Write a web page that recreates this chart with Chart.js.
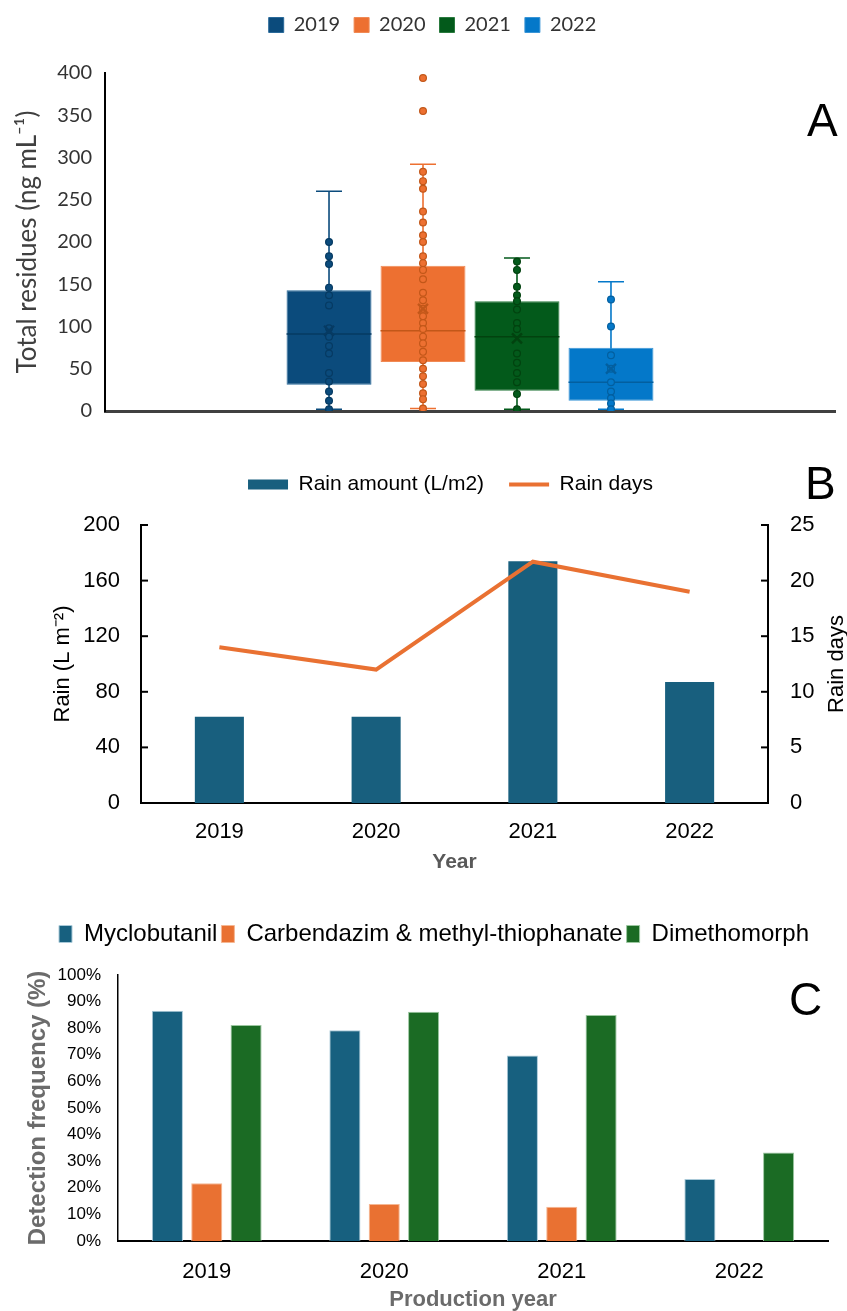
<!DOCTYPE html>
<html>
<head>
<meta charset="utf-8">
<script src="https://cdn.jsdelivr.net/npm/chart.js@4.4.1/dist/chart.umd.min.js"></script>
<style>
  body { margin: 0; background: #fff; }
  #wrap { position: relative; width: 847px; height: 1311px; overflow: hidden; background: #fff; }
  canvas { position: absolute; left: 0; }
  .lab { position: absolute; font-family: "Liberation Sans", Arial, sans-serif; font-size: 46px; line-height: 46px; color: #000; }
</style>
</head>
<body>
<div id="wrap">
  <canvas id="cA" width="847" height="440" style="top:0px"></canvas>
  <canvas id="cB" width="847" height="440" style="top:449px"></canvas>
  <canvas id="cC" width="847" height="406" style="top:905px"></canvas>
  <div class="lab" style="left:807px;top:97px">A</div>
  <div class="lab" style="left:805px;top:460px">B</div>
  <div class="lab" style="left:789px;top:976px">C</div>
</div>
<script>
// ---------- Panel A data (box plots of total residues) ----------
const boxYears   = ['2019', '2020', '2021', '2022'];
const boxQ1      = [31, 58, 24, 12];
const boxQ3      = [143, 172, 130, 75];
const boxMedian  = [91, 95, 88, 34];
const boxMean    = [95, 121, 86, 50];
const whiskerMin = [2, 3, 2, 2];
const whiskerMax = [260, 292, 181, 153];
const points2019 = [200, 183, 174, 146, 137, 125, 98, 88, 77, 68, 45, 35, 23, 12, 2];
const points2020 = [394, 355, 283, 272, 263, 236, 223, 208, 200, 183, 175, 167, 156, 140, 131, 121, 112, 104, 97, 88, 80, 70, 60, 50, 41, 32, 21, 14, 3];
const points2021 = [177, 167, 147, 137, 130, 120, 104, 97, 68, 57, 45, 34, 20, 2];
const points2022 = [132, 100, 66, 50, 34, 23, 15, 9, 2];
const residueTicks = [0, 400, 50];

// ---------- Panel B data (rain) ----------
const rainYears  = ['2019', '2020', '2021', '2022'];
const rainAmount = [62, 62, 174, 87];
const rainDays   = [14, 12, 21.7, 19];

// ---------- Panel C data (detection frequency, %) ----------
const prodYears    = ['2019', '2020', '2021', '2022'];
const myclobutanil = [86.6, 79.2, 69.7, 23.3];
const carbendazim  = [21.7, 13.9, 12.9, 0];
const dimethomorph = [81.2, 86.2, 85.0, 33.3];

// ---------- styles ----------
const boxFill   = ['#0b4b7c', '#ed7031', '#035a1b', '#0478c9'];
const boxEdge   = ['#2a6a9a', '#f08a55', '#2a7a3e', '#3a95d6'];
const boxDark   = ['#063a62', '#c25719', '#02420f', '#035f9f'];
const pointSets = [points2019, points2020, points2021, points2022];

// share of the plot width taken by the group of four boxes
const GROUP_PCT = 0.515;
const SANS = '"Liberation Sans", Arial, sans-serif';

// Panel A: whiskers & medians drawn through the chart's own scales/elements
const boxExtras = {
  id: 'boxExtras',
  beforeDatasetsDraw(chart) {
    const ctx = chart.ctx, y = chart.scales.y;
    for (let i = 0; i < boxYears.length; i++) {
      const bar = chart.getDatasetMeta(i).data[0];
      if (!bar) continue;
      const x = bar.x, half = 13;
      const yMin = y.getPixelForValue(whiskerMin[i]);
      const yMax = y.getPixelForValue(whiskerMax[i]);
      ctx.save();
      ctx.strokeStyle = boxFill[i];
      ctx.lineWidth = 1.6;
      ctx.beginPath();
      ctx.moveTo(x, yMin); ctx.lineTo(x, yMax);
      ctx.moveTo(x - half, yMax); ctx.lineTo(x + half, yMax);
      ctx.moveTo(x - half, yMin); ctx.lineTo(x + half, yMin);
      ctx.stroke();
      ctx.restore();
    }
  },
  afterDatasetDraw(chart, args) {
    const i = args.index;
    if (i >= boxYears.length) return;
    const bar = chart.getDatasetMeta(i).data[0];
    const y = chart.scales.y;
    const ctx = chart.ctx;
    const py = y.getPixelForValue(boxMedian[i]);
    ctx.save();
    ctx.strokeStyle = boxDark[i];
    ctx.lineWidth = 1.5;
    ctx.beginPath();
    ctx.moveTo(bar.x - bar.width / 2, py);
    ctx.lineTo(bar.x + bar.width / 2, py);
    ctx.stroke();
    ctx.restore();
  }
};

const dsA = [];
boxYears.forEach((yr, i) => {
  dsA.push({
    type: 'bar', label: yr, data: [{ x: i, y: [boxQ1[i], boxQ3[i]] }],
    backgroundColor: boxFill[i], borderColor: boxEdge[i], borderWidth: 1, borderSkipped: false,
    grouped: false, categoryPercentage: 1, barPercentage: 0.904, order: 3
  });
});
boxYears.forEach((yr, i) => {
  dsA.push({
    type: 'scatter', label: yr + ' points', data: pointSets[i].map(v => ({ x: i, y: v })),
    pointRadius: 3.4, backgroundColor: boxFill[i],
    borderColor: boxDark[i], borderWidth: 1.2, order: 1
  });
});
boxYears.forEach((yr, i) => {
  dsA.push({
    type: 'scatter', label: yr + ' mean', data: [{ x: i, y: boxMean[i] }],
    pointStyle: 'crossRot', pointRadius: 7,
    borderColor: boxDark[i], borderWidth: 2.4, order: 0
  });
});

new Chart(document.getElementById('cA'), {
  type: 'bar',
  data: { datasets: dsA },
  options: {
    responsive: false, animation: false,
    layout: { padding: { left: 30, right: 12, top: 1, bottom: 29 } },
    plugins: {
      legend: {
        weight: 1000,
        labels: {
          font: { family: 'Lato', size: 20 }, color: '#333', boxWidth: 15, boxHeight: 15, padding: 14,
          filter: item => item.datasetIndex < boxYears.length,
          sort: (a, b) => a.datasetIndex - b.datasetIndex
        }
      },
      subtitle: { display: true, text: '', weight: 500, font: { size: 10, lineHeight: 1 }, padding: { top: 18, bottom: 0 } },
      tooltip: { enabled: false }
    },
    scales: {
      x: {
        type: 'linear', offset: false,
        min: 1.5 - 2 / GROUP_PCT, max: 1.5 + 2 / GROUP_PCT,
        ticks: { display: false, stepSize: 100 }, grid: { display: false, drawTicks: false },
        border: { color: '#404040', width: 3 }, afterFit(s) { s.height = 0; }
      },
      y: {
        min: residueTicks[0], max: residueTicks[1],
        ticks: { stepSize: residueTicks[2], font: { family: 'Lato', size: 20 }, color: '#333', padding: 13 },
        grid: { display: false, drawTicks: false }, border: { color: '#000', width: 2 },
        title: { display: true, text: 'Total residues (ng mL⁻¹)', font: { family: 'Lato', size: 26 }, color: '#404040', padding: { top: -18, bottom: 0 } },
        afterFit(s) { s.width = 75; }
      }
    }
  },
  plugins: [boxExtras]
});

// ---------- Panel B ----------
const innerTicks = {
  id: 'innerTicks',
  afterDatasetsDraw(chart) {
    const ctx = chart.ctx;
    ['y', 'y1'].forEach(id => {
      const s = chart.scales[id];
      const left = s.position === 'left';
      const x0 = left ? s.right : s.left;
      const dir = left ? 1 : -1;
      ctx.save();
      ctx.strokeStyle = '#000'; ctx.lineWidth = 2;
      s.ticks.forEach(t => {
        const py = s.getPixelForValue(t.value);
        ctx.beginPath(); ctx.moveTo(x0, py); ctx.lineTo(x0 + dir * 7, py); ctx.stroke();
      });
      ctx.restore();
    });
  },
  afterDraw(chart) {
    const s = chart.scales.y1, ctx = chart.ctx;
    ctx.save();
    ctx.translate(s.right - 10, (s.top + s.bottom) / 2);
    ctx.rotate(-Math.PI / 2);
    ctx.font = '22px ' + SANS;
    ctx.fillStyle = '#000';
    ctx.textAlign = 'center'; ctx.textBaseline = 'middle';
    ctx.fillText('Rain days', 0, 0);
    ctx.restore();
  }
};

new Chart(document.getElementById('cB'), {
  type: 'bar',
  data: {
    labels: rainYears,
    datasets: [
      { type: 'bar', label: 'Rain amount (L/m2)', data: rainAmount, backgroundColor: '#185f7e',
        categoryPercentage: 1, barPercentage: 0.313, yAxisID: 'y', order: 2, pointStyle: 'rect' },
      { type: 'line', label: 'Rain days', data: rainDays, borderColor: '#e97132', backgroundColor: '#e97132',
        borderWidth: 4, pointRadius: 0, yAxisID: 'y1', order: 1, pointStyle: 'line', tension: 0 }
    ]
  },
  options: {
    responsive: false, animation: false,
    layout: { padding: { left: 54, right: 0, top: 0, bottom: 0 } },
    plugins: {
      legend: {
        weight: 1000,
        labels: { usePointStyle: true, pointStyleWidth: 40, boxHeight: 10, padding: 25,
          font: { family: SANS, size: 21 }, color: '#000',
          sort: (a, b) => a.datasetIndex - b.datasetIndex }
      },
      subtitle: { display: true, text: '', weight: 500, font: { size: 10, lineHeight: 1 }, padding: { top: 10, bottom: 0 } },
      tooltip: { enabled: false }
    },
    scales: {
      x: {
        ticks: { font: { family: SANS, size: 22 }, color: '#000', padding: 16 },
        grid: { display: false, drawTicks: false }, border: { color: '#000', width: 2 },
        title: { display: true, text: 'Year', font: { family: SANS, size: 21, weight: 'bold' }, color: '#595959', padding: { top: 0, bottom: 14 } },
        afterFit(s) { s.height = 86; }
      },
      y: {
        position: 'left', min: 0, max: 200,
        ticks: { stepSize: 40, font: { family: SANS, size: 22 }, color: '#000', padding: 21 },
        grid: { display: false, drawTicks: false }, border: { color: '#000', width: 2 },
        title: { display: true, text: 'Rain (L m⁻²)', font: { family: SANS, size: 22 }, color: '#000', padding: { top: -4.6, bottom: 0 } },
        afterFit(s) { s.width = 87; }
      },
      y1: {
        position: 'right', min: 0, max: 25,
        ticks: { stepSize: 5, font: { family: SANS, size: 22 }, color: '#000', padding: 22 },
        grid: { display: false, drawTicks: false }, border: { color: '#000', width: 2 },
        afterFit(s) { s.width = 79; }
      }
    }
  },
  plugins: [innerTicks]
});

// ---------- Panel C ----------
new Chart(document.getElementById('cC'), {
  type: 'bar',
  data: {
    labels: prodYears,
    datasets: [
      { label: 'Myclobutanil', data: myclobutanil, backgroundColor: '#17607f', borderColor: '#a9c9d8', borderWidth: 1 },
      { label: 'Carbendazim & methyl-thiophanate', data: carbendazim, backgroundColor: '#e97132', borderColor: '#f5b793', borderWidth: 1 },
      { label: 'Dimethomorph', data: dimethomorph, backgroundColor: '#1b6b24', borderColor: '#9cc7a0', borderWidth: 1 }
    ]
  },
  options: {
    responsive: false, animation: false,
    datasets: { bar: { categoryPercentage: 0.665, barPercentage: 0.79 } },
    layout: { padding: { left: 40, right: 19, top: 13, bottom: 0 } },
    plugins: {
      legend: {
        weight: 1000,
        labels: { boxWidth: 13, boxHeight: 17, padding: 4, font: { family: SANS, size: 24 }, color: '#000' }
      },
      subtitle: { display: true, text: '', weight: 500, font: { size: 10, lineHeight: 1 }, padding: { top: 9, bottom: 0 } },
      tooltip: { enabled: false }
    },
    scales: {
      x: {
        ticks: { font: { family: SANS, size: 22 }, color: '#000', padding: 18 },
        grid: { display: false, drawTicks: false }, border: { color: '#000', width: 2 },
        title: { display: true, text: 'Production year', font: { family: SANS, size: 22, weight: 'bold' }, color: '#6b6b6b', padding: { top: 0, bottom: -2 } },
        afterFit(s) { s.height = 70; }
      },
      y: {
        min: 0, max: 100,
        ticks: { stepSize: 10, font: { family: SANS, size: 17 }, color: '#000', padding: 17, callback: v => v + '%' },
        grid: { display: false, drawTicks: false }, border: { color: '#000', width: 1.5 },
        title: { display: true, text: 'Detection frequency (%)', font: { family: SANS, size: 24, weight: 'bold' }, color: '#6b6b6b', padding: { top: -16, bottom: 0 } },
        afterFit(s) { s.width = 78; }
      }
    }
  }
});
</script>
</body>
</html>
